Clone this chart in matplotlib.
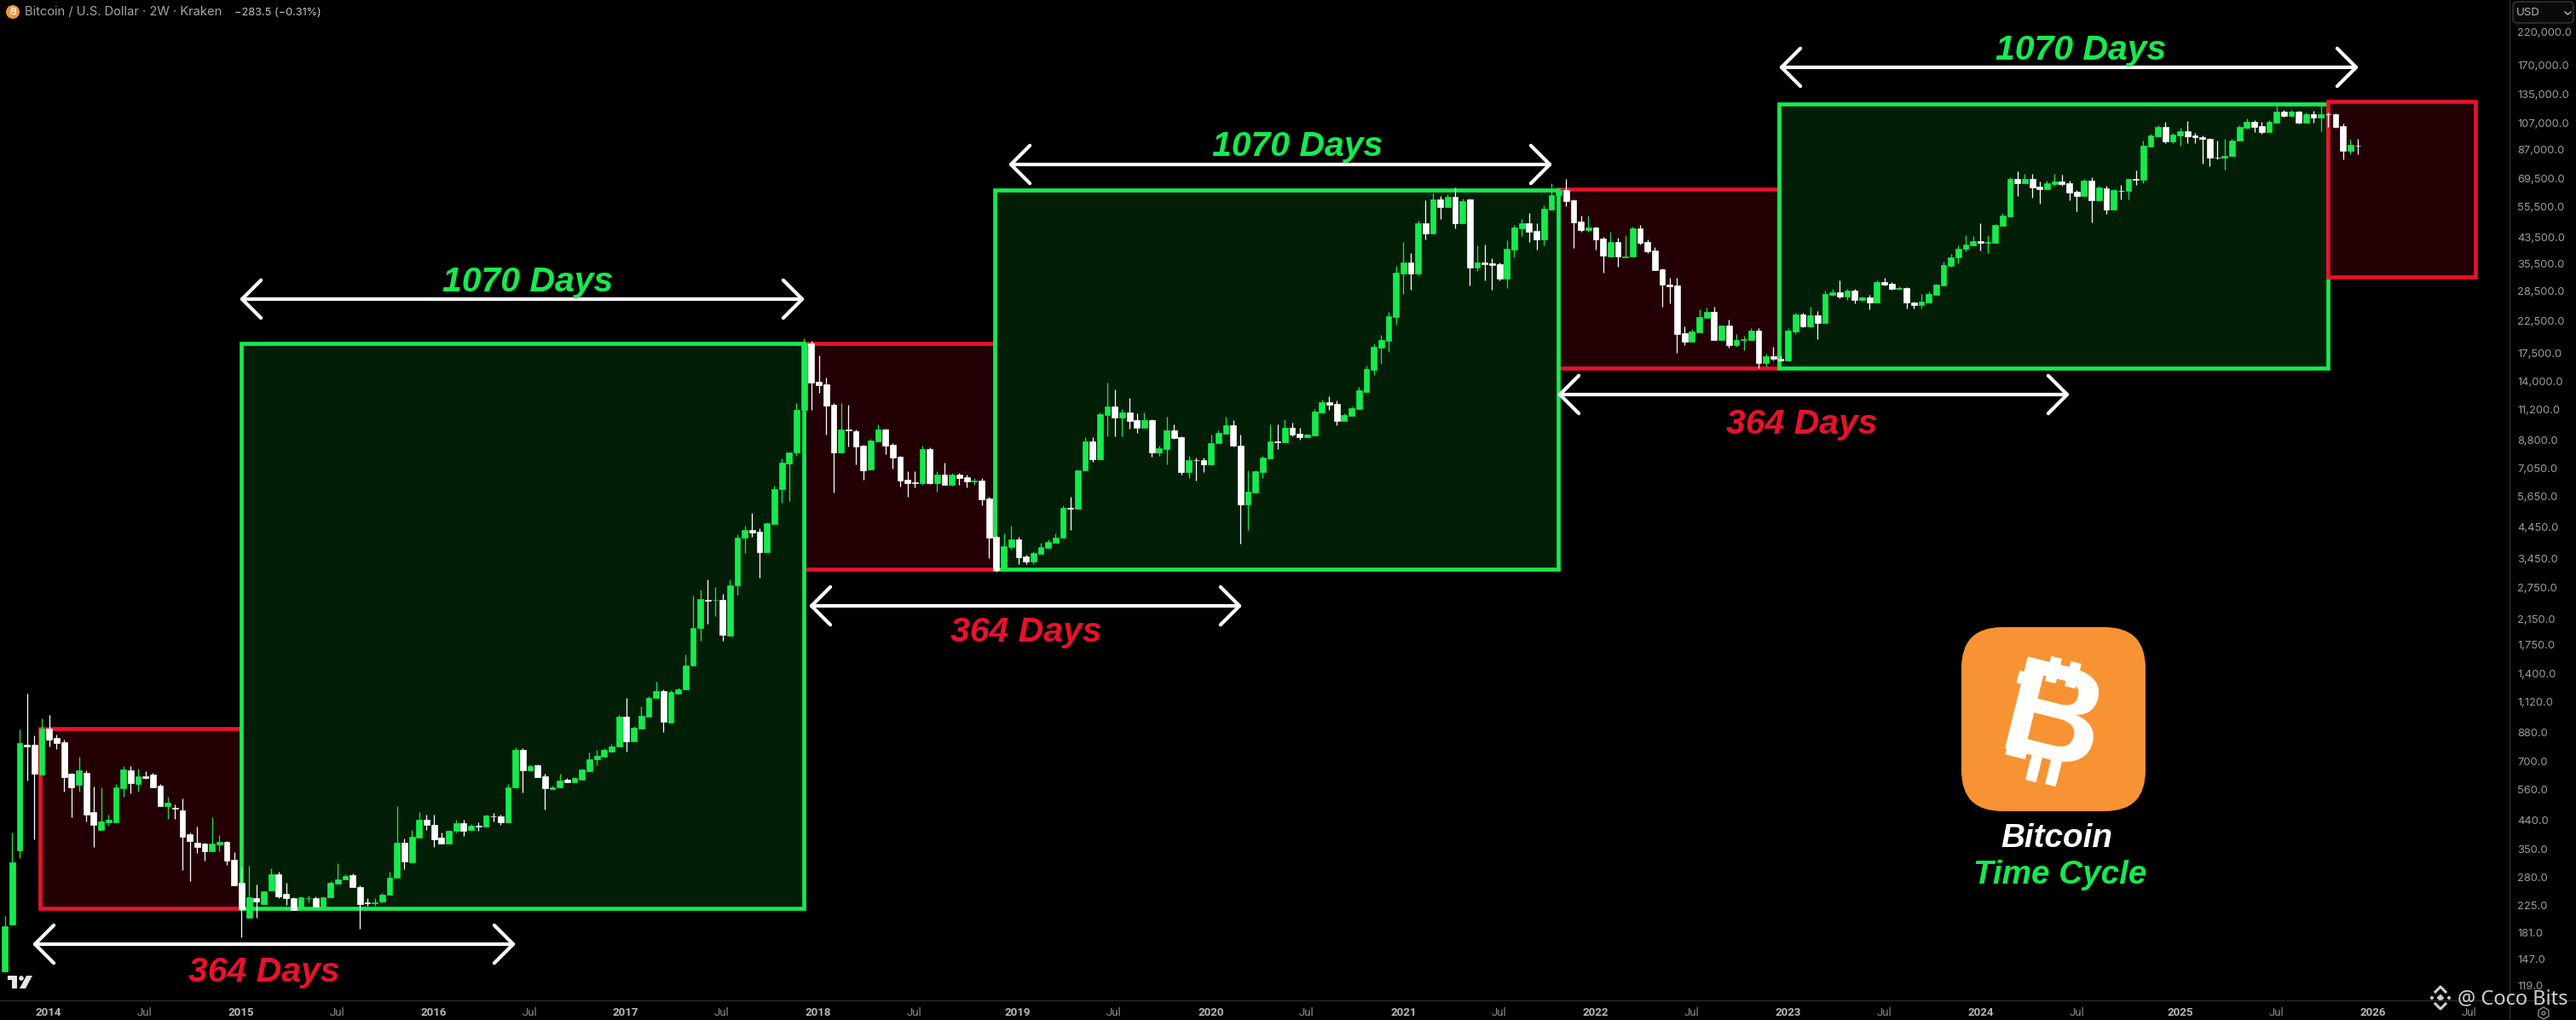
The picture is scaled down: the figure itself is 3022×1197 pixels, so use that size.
import matplotlib
matplotlib.use("Agg")
import matplotlib.pyplot as plt
from matplotlib.patches import Rectangle, FancyBboxPatch, Circle, Polygon
from matplotlib.ticker import NullLocator
import numpy as np

# 2W candles, first bar is autumn 2013
opens = [
    133, 193, 346, 798, 798, 630, 904, 840, 812, 632,
    580, 638, 468, 408, 431, 431, 564, 650, 583, 623,
    628, 577, 491, 484, 475, 393, 368, 366, 345, 364,
    371, 322, 268, 204, 238, 227, 252, 287, 246, 238,
    222, 237, 238, 222, 240, 267, 276, 285, 260, 229.5,
    229, 232, 244, 280, 369, 316, 384, 440, 424, 384,
    365, 403, 429, 407, 422, 417, 453, 452, 431, 570,
    765, 650, 677, 620, 563, 570, 606, 592, 606, 646,
    710, 726, 753, 785, 992, 816, 904, 993, 1150, 1220,
    950, 1195, 1235, 1490, 2000, 2505, 2490, 2505, 1885, 2795,
    4070, 4325, 4275, 3630, 4550, 5965, 7340, 7970, 11180, 18850,
    13950, 13660, 11640, 7980, 9580, 9480, 8410, 6980, 8730, 9580,
    8470, 7720, 6440, 6300, 6275, 8210, 6275, 6710, 6180, 6710,
    6570, 6370, 6420, 5560, 4110, 3170, 3790, 4020, 3510, 3370,
    3590, 3775, 3925, 4070, 5160, 5130, 6920, 8700, 7570, 10750,
    11480, 10520, 10980, 10310, 9740, 10310, 7980, 8220, 9490, 9010,
    6830, 7520, 7500, 7270, 8600, 9260, 9890, 8450, 5320, 5840,
    6850, 7630, 8700, 8650, 9700, 9260, 9030, 9160, 10980, 11870,
    11720, 10240, 10700, 11260, 12900, 15330, 18290, 19290, 23190, 32800,
    35760, 32800, 48840, 44950, 58830, 55490, 60000, 48720, 58660, 34340,
    35700, 35500, 35250, 31410, 39580, 46770, 48720, 45870, 42890, 54400,
    60690, 63170, 58330, 49370, 46160, 46970, 43200, 37450, 42060, 37300,
    37450, 46810, 42060, 39300, 33900, 30100, 29870, 20460, 19190, 20600,
    23100, 24180, 19400, 21680, 18610, 19400, 19400, 20820, 16170, 17030,
    16680, 16510, 20740, 23670, 21600, 23500, 22130, 27740, 28300, 27280,
    28600, 26670, 27150, 26030, 30650, 30200, 29000, 29150, 26120, 25600,
    26120, 27740, 29870, 34900, 37150, 39700, 40990, 42300, 41600, 41750,
    47800, 51350, 69080, 66950, 69080, 65100, 63900, 66300, 67800, 66600,
    62400, 60400, 68000, 58400, 64200, 54200, 63100, 62700, 69080, 68600,
    89400, 96600, 104100, 92800, 97400, 101000, 97100, 96000, 94800, 81900,
    81700, 82900, 93200, 103400, 108700, 105000, 99800, 108000, 117200, 113800,
    117200, 107400, 115400, 112000, 115400, 115000, 104800, 86400, 90100,
]
highs = [
    206, 400, 898, 1193, 860, 980, 1010, 865, 830, 640,
    725, 650, 575, 570, 460, 583, 675, 672, 660, 645,
    640, 583, 530, 497, 523, 400, 418, 368, 450, 392,
    372, 342, 305, 306, 265, 250, 300, 293, 268, 240,
    241, 242, 241, 241, 272, 313, 287, 288, 262, 238,
    238, 247, 292, 490, 380, 408, 468, 458, 458, 400,
    408, 442, 442, 427, 432, 460, 465, 460, 583, 780,
    775, 682, 682, 633, 577, 633, 612, 616, 661, 750,
    765, 778, 800, 1005, 1150, 925, 1080, 1170, 1310, 1235,
    1225, 1250, 1620, 2584, 2710, 2935, 2765, 2625, 2935, 4200,
    4490, 4970, 4395, 4600, 6150, 7605, 8000, 11775, 19720, 19270,
    17240, 14460, 11770, 11770, 11640, 9580, 8500, 8880, 9950, 9620,
    8590, 7780, 6870, 6870, 8450, 8330, 6870, 7350, 6820, 6820,
    6710, 6530, 6530, 5620, 4170, 4210, 4490, 4120, 3555, 3665,
    3925, 4020, 4210, 5260, 5620, 7000, 9000, 9000, 10990, 13860,
    13110, 11260, 12250, 10860, 10980, 10400, 8430, 10570, 9940, 9090,
    7770, 7690, 7690, 9200, 9490, 10570, 10290, 9200, 6960, 6960,
    7770, 10000, 10000, 10400, 10100, 9740, 9280, 11260, 12150, 12440,
    12030, 10860, 11480, 13360, 15860, 18900, 20200, 24220, 34770, 42020,
    38400, 49700, 58410, 61500, 60300, 61100, 64630, 59300, 59300, 40900,
    41100, 36900, 35700, 42680, 48200, 50500, 52820, 48800, 56020, 66830,
    64000, 69080, 59000, 51860, 51860, 47400, 43700, 45680, 43330, 44300,
    47400, 48000, 42800, 40300, 34200, 31600, 31600, 21600, 21100, 24700,
    25050, 25250, 21800, 22800, 20400, 20000, 21300, 21300, 17420, 18420,
    17190, 21300, 24000, 24000, 25250, 24300, 28700, 29100, 31080, 29000,
    28950, 27350, 27700, 31000, 31600, 30650, 29600, 29500, 26300, 27870,
    28400, 30300, 36100, 38150, 40900, 44300, 44050, 48780, 44300, 48400,
    52960, 70000, 73390, 71900, 72100, 67600, 68000, 71900, 71500, 68000,
    63500, 69100, 70000, 65300, 65300, 63800, 66100, 69300, 74100, 93500,
    98800, 105700, 108300, 99400, 103400, 109000, 99400, 97100, 95100, 93500,
    94500, 94500, 105800, 111400, 110200, 108600, 109900, 123100, 119300, 119300,
    118100, 117000, 118000, 123100, 117000, 115900, 107000, 94500, 95000,
]
lows = [
    133, 193, 327, 602, 377, 630, 785, 770, 550, 450,
    550, 435, 355, 408, 422, 431, 530, 545, 550, 608,
    570, 491, 445, 445, 296, 272, 340, 320, 345, 345,
    308, 262, 175, 204, 204, 227, 252, 238, 225, 216,
    222, 230, 222, 222, 240, 267, 275, 259, 186, 224,
    224, 230, 244, 280, 298, 316, 384, 407, 355, 365,
    365, 400, 388, 405, 405, 417, 435, 425, 431, 570,
    548, 650, 617, 478, 560, 570, 592, 592, 606, 646,
    680, 726, 748, 785, 753, 816, 904, 993, 1150, 882,
    950, 1195, 1235, 1490, 1815, 2074, 2194, 1815, 1885, 2595,
    3615, 4110, 2982, 3630, 4550, 5375, 5435, 7780, 11180, 11180,
    12790, 9200, 5810, 7980, 8380, 7270, 6450, 6980, 8730, 7900,
    7030, 6120, 5650, 6080, 6200, 6250, 5880, 6170, 6140, 6200,
    6080, 6200, 5260, 3470, 3120, 3170, 3705, 3320, 3320, 3320,
    3590, 3775, 3925, 4070, 4340, 5130, 6920, 7430, 7570, 9090,
    9090, 9090, 9620, 9300, 9740, 7730, 7770, 7270, 8900, 6710,
    6510, 6410, 6840, 7270, 8600, 9260, 8380, 3880, 4340, 5840,
    6550, 7630, 8220, 8650, 9090, 8820, 9030, 9160, 10860, 11150,
    9880, 10240, 10700, 11260, 12900, 14750, 16100, 17630, 21920, 27890,
    28860, 32300, 42960, 44950, 50500, 55490, 46910, 48720, 29830, 33360,
    31000, 28860, 31100, 29240, 37150, 43970, 42020, 39470, 40900, 54400,
    60000, 55780, 40150, 45670, 45670, 39620, 32960, 37450, 34510, 37200,
    37450, 41200, 38600, 33550, 25250, 25830, 17570, 18690, 19190, 20600,
    23100, 19460, 19400, 18200, 18400, 17900, 19400, 15560, 15740, 16480,
    16400, 16510, 20370, 21500, 21400, 19580, 22130, 27500, 26900, 26650,
    25850, 26350, 24630, 26030, 29800, 28800, 28800, 24800, 24920, 24920,
    26120, 27740, 29870, 34510, 35430, 39060, 40900, 39400, 38620, 41750,
    47600, 51350, 60400, 66950, 59700, 56680, 63900, 65500, 65500, 58400,
    53400, 60400, 49170, 58000, 52500, 54200, 58900, 58900, 66100, 67000,
    89400, 96600, 91500, 91900, 89700, 91500, 91500, 78200, 76500, 80700,
    74400, 82600, 93200, 102600, 99800, 98700, 99800, 108000, 112900, 113000,
    107200, 107400, 108000, 101000, 104400, 103400, 80830, 84000, 84000,
]
closes = [
    190, 315, 805, 785, 634, 904, 832, 805, 618, 570,
    650, 460, 424, 436, 440, 570, 655, 588, 623, 612,
    570, 491, 505, 482, 386, 374, 356, 345, 366, 370,
    320, 262, 218, 240, 231, 250, 287, 241, 238, 216,
    240, 238, 222, 240, 268, 275, 283, 259, 226, 229,
    229.5, 244, 280, 369, 318, 385, 440, 423, 378, 365,
    405, 429, 405, 422, 417, 455, 452, 431, 570, 765,
    650, 675, 617, 565, 570, 602, 592, 612, 655, 712,
    728, 765, 787, 995, 816, 910, 1000, 1155, 1220, 958,
    1210, 1235, 1490, 2000, 2510, 2480, 2505, 1897, 2800, 4080,
    4325, 4250, 3630, 4585, 5985, 7370, 7990, 11180, 18850, 13900,
    13580, 11560, 7980, 9580, 9500, 8380, 6960, 8750, 9580, 8440,
    7690, 6410, 6275, 6275, 8210, 6275, 6710, 6180, 6710, 6530,
    6360, 6420, 5520, 4090, 3170, 3810, 4020, 3490, 3370, 3605,
    3790, 3945, 4090, 5160, 5130, 6920, 8730, 7570, 10800, 11480,
    10520, 10980, 10240, 9740, 10310, 7980, 8260, 9490, 8950, 6830,
    7510, 7500, 7270, 8630, 9300, 9890, 8410, 5320, 5850, 6870,
    7650, 8700, 8680, 9700, 9200, 9010, 9200, 11030, 11870, 11650,
    10240, 10740, 11320, 13040, 15410, 18340, 19390, 23410, 33030, 35760,
    32800, 48840, 44950, 58830, 55490, 60000, 48720, 58040, 34340, 35760,
    35400, 35000, 31410, 39810, 47120, 48720, 45560, 42890, 54630, 60690,
    63200, 58030, 49170, 46160, 46970, 42900, 37770, 42060, 37450, 37600,
    46810, 41750, 39060, 33720, 30000, 29700, 20370, 19190, 20740, 23200,
    24180, 19460, 21680, 18610, 19400, 19550, 20820, 16190, 17030, 16680,
    16510, 20820, 23670, 21660, 23500, 22130, 27870, 28300, 27280, 28600,
    26670, 27150, 26030, 30650, 30000, 29030, 29150, 26000, 25600, 26300,
    27870, 30000, 35050, 37290, 39900, 41140, 42300, 41700, 42060, 48020,
    51760, 69080, 66950, 69080, 64650, 63900, 66600, 67800, 66300, 62200,
    60400, 68000, 58400, 64400, 54200, 63170, 62900, 69080, 68800, 89700,
    97100, 104100, 92800, 97700, 101000, 96800, 95900, 94900, 81700, 81500,
    82900, 93500, 104100, 108300, 104400, 99800, 108700, 117200, 113800, 117200,
    107400, 115400, 111800, 115400, 115000, 104100, 86400, 90500, 89800,
]

# cycle boxes: bar index of left/right edge, price of top/bottom
red_left = [4.76, 108.0, 209.9]
red_right = [31.9, 133.8, 239.8]
red_top = [905, 18880, 63740]
red_bottom = [219, 3187, 15570]
green_left = [31.9, 133.8, 239.8]
green_right = [108.0, 209.9, 314.0]
green_top = [18880, 63300, 124800]
green_bottom = [219, 3187, 15570]
last_red = [314.0, 333.9, 127400, 31900]

price_ticks = [220000, 170000, 135000, 107000, 87000, 69500, 55500, 43500, 35500, 28500,
               22500, 17500, 14000, 11200, 8800, 7050, 5650, 4450, 3450, 2750, 2150, 1750,
               1400, 1120, 880, 700, 560, 440, 350, 280, 225, 181, 147, 119]
time_tick_bars = [5.9, 18.9, 31.9, 44.9, 57.9, 70.9, 83.9, 96.9, 109.9, 122.9, 136.9, 149.9,
                  163, 175.9, 189, 201.9, 215, 228, 241, 254, 267, 280, 294, 307, 320, 333]
time_tick_labels = ["2014", "Jul", "2015", "Jul", "2016", "Jul", "2017", "Jul", "2018", "Jul",
                    "2019", "Jul", "2020", "Jul", "2021", "Jul", "2022", "Jul", "2023", "Jul",
                    "2024", "Jul", "2025", "Jul", "2026", "Jul"]

W, H = 3022, 1197
GREEN = "#16EA4E"
RED = "#E8122B"
GREEN_FILL = "#031E07"
RED_FILL = "#230004"
BOX_LW = 3.4
BOLD_ITALIC = dict(family="Liberation Sans", weight="bold", style="italic")

fig = plt.figure(figsize=(W / 100, H / 100), dpi=100, facecolor="black")
ax = fig.add_axes([0, (H - 1174) / H, 2944 / W, 1174 / H], facecolor="black")
ax.set_yscale("log")
ax.set_xlim(-0.657, 338.5)
ax.set_ylim(106.1, 283400)

# boxes
for i in range(3):
    ax.add_patch(Rectangle((red_left[i], red_bottom[i]), red_right[i] - red_left[i],
                           red_top[i] - red_bottom[i], fc=RED_FILL, ec=RED, lw=BOX_LW, zorder=1))
for i in range(3):
    ax.add_patch(Rectangle((green_left[i], green_bottom[i]), green_right[i] - green_left[i],
                           green_top[i] - green_bottom[i], fc=GREEN_FILL, ec=GREEN, lw=BOX_LW, zorder=2))
ax.add_patch(Rectangle((last_red[0], last_red[3]), last_red[1] - last_red[0],
                       last_red[2] - last_red[3], fc=RED_FILL, ec=RED, lw=BOX_LW, zorder=2.5))

# candles
o = np.array(opens, dtype=float)
h = np.array(highs, dtype=float)
l = np.array(lows, dtype=float)
c = np.array(closes, dtype=float)
bars = np.arange(len(o))
colors = [GREEN if c[i] >= o[i] else "white" for i in bars]
ax.vlines(bars, l, h, colors=colors, lw=0.9, zorder=3)
ax.bar(bars, np.abs(c - o), bottom=np.minimum(o, c), width=0.78, color=colors,
       edgecolor=colors, linewidth=0.5, zorder=4)

# axes
ax.yaxis.tick_right()
ax.set_yticks(price_ticks)
ax.set_yticklabels([f"{v:,.1f}" for v in price_ticks])
ax.yaxis.set_minor_locator(NullLocator())
ax.tick_params(axis="y", length=0, pad=6.5, labelcolor="#9C9C9C", labelsize=9.3)
ax.set_xticks(time_tick_bars)
ax.set_xticklabels(time_tick_labels)
ax.tick_params(axis="x", length=0, pad=5.5, labelcolor="#8A8A8A", labelsize=9.5)
for lab in ax.get_xticklabels():
    lab.set_family("Roboto")
    if lab.get_text() != "Jul":
        lab.set_weight("bold")
        lab.set_color("#B8B8B8")
for lab in ax.get_yticklabels():
    lab.set_family("Inter")
for s in ax.spines.values():
    s.set_visible(False)

# overlay in picture pixels for everything that is drawn on top of the chart
ov = fig.add_axes([0, 0, 1, 1], facecolor="none")
ov.set_xlim(0, W)
ov.set_ylim(H, 0)
ov.axis("off")
ov.plot([0, W], [1174, 1174], color="#2A2A2A", lw=1)
ov.plot([2944, 2944], [0, H], color="#2A2A2A", lw=1)


def arrow(x0, x1, y):
    ov.annotate("", xy=(x1, y), xytext=(x0, y),
                arrowprops=dict(arrowstyle="<->,head_length=1.6,head_width=1.6", color="white",
                                lw=3.0, mutation_scale=10, shrinkA=0, shrinkB=0,
                                capstyle="round", joinstyle="round"))


def tilted_rect(cx, cy, w, ht, fc="white"):
    # rectangle leaning clockwise like the coin logo
    a = np.radians(14)
    pts = []
    for u, v in [(-w / 2, -ht / 2), (w / 2, -ht / 2), (w / 2, ht / 2), (-w / 2, ht / 2)]:
        pts.append((cx + u * np.cos(a) - v * np.sin(a), cy + u * np.sin(a) + v * np.cos(a)))
    ov.add_patch(Polygon(pts, fc=fc, ec="none"))


for x0, x1, y in [(281, 944, 351), (1183, 1821, 193), (2087, 2767, 79),
                  (38, 605, 1108), (949, 1457, 711), (1827, 2428, 463)]:
    arrow(x0, x1, y)

for x, y in [(619, 331), (1522, 172), (2441, 59)]:
    ov.text(x, y, "1070 Days", color=GREEN, fontsize=29.5, ha="center", va="center", **BOLD_ITALIC)
for x, y in [(310, 1141), (1204, 742), (2114, 498)]:
    ov.text(x, y, "364 Days", color=RED, fontsize=29.5, ha="center", va="center", **BOLD_ITALIC)

# bitcoin logo
ov.add_patch(FancyBboxPatch((2301 + 48, 736 + 48), 216 - 96, 216 - 96,
                            boxstyle="round,pad=48,rounding_size=48", fc="#F79332", ec="none"))
ov.text(2407, 852, "B", color="white", fontsize=116, rotation=-14, ha="center", va="center",
        family="Liberation Sans", weight="bold")
for cx, cy in [(2409, 786), (2432, 792), (2386, 902), (2409, 907)]:
    tilted_rect(cx, cy, 13, 30)
for cx, cy in [(2379, 797), (2366, 881)]:
    tilted_rect(cx, cy, 24, 15)
ov.text(2413, 984, "Bitcoin", color="white", fontsize=27.8, ha="center", va="center", **BOLD_ITALIC)
ov.text(2417, 1027, "Time Cycle", color=GREEN, fontsize=27.8, ha="center", va="center", **BOLD_ITALIC)

# header
ov.add_patch(Circle((15, 14), 8, fc="#F0963A", ec="none"))
ov.text(15, 14, "B", color="white", fontsize=7.5, rotation=-14, ha="center", va="center",
        family="Liberation Sans", weight="bold")
ov.text(29, 14.5, "Bitcoin / U.S. Dollar \u00b7 2W \u00b7 Kraken", color="#A6A6A6", fontsize=10.6,
        ha="left", va="center", family="Inter")
ov.text(275, 14.5, "\u2212283.5 (\u22120.31%)", color="#C4C4C4", fontsize=9.2, ha="left", va="center",
        family="Inter")

# USD selector
ov.add_patch(FancyBboxPatch((2952, 6), 63, 17, boxstyle="round,pad=4,rounding_size=5", fc="#0A0A0A",
                            ec="#3A3A3A", lw=1))
ov.text(2952, 15, "USD", color="#B5B5B5", fontsize=9.6, ha="left", va="center", family="Inter")
ov.plot([3009, 3012.5, 3016], [14, 17, 14], color="#B5B5B5", lw=1)

# chart logo bottom left
for pts in [[(9, 1145), (20, 1145), (20, 1160), (14, 1160), (14, 1150), (9, 1150)],
            [(31, 1145), (38, 1145), (30, 1160), (23, 1160)]]:
    ov.add_patch(Polygon(pts, fc="#E6E6E6", ec="none"))
ov.add_patch(Circle((25, 1148), 2.8, fc="#E6E6E6", ec="none"))

# settings icon
ov.add_patch(Polygon([(2984, 1182), (2990, 1185.5), (2990, 1192.5), (2984, 1196), (2978, 1192.5), (2978, 1185.5)],
                     fc="none", ec="#9A9A9A", lw=0.9))
ov.add_patch(Circle((2984, 1189), 2, fc="none", ec="#9A9A9A", lw=0.9))

# watermark
MARK = "#CFCFCF"
for cx, cy, r in [(2863, 1171, 4.5), (2853, 1171, 2.6), (2873, 1171, 2.6)]:
    ov.add_patch(Polygon([(cx, cy - r), (cx + r, cy), (cx, cy + r), (cx - r, cy)], fc=MARK, ec="none"))
ov.plot([2857, 2863, 2869], [1164, 1158, 1164], color=MARK, lw=2.2)
ov.plot([2857, 2863, 2869], [1178, 1184, 1178], color=MARK, lw=2.2)
ov.text(2883, 1172, "@ Coco Bits", color=MARK, fontsize=17, ha="left", va="center", family="Noto Sans")

fig.savefig("out.png", dpi=100, facecolor="black")
